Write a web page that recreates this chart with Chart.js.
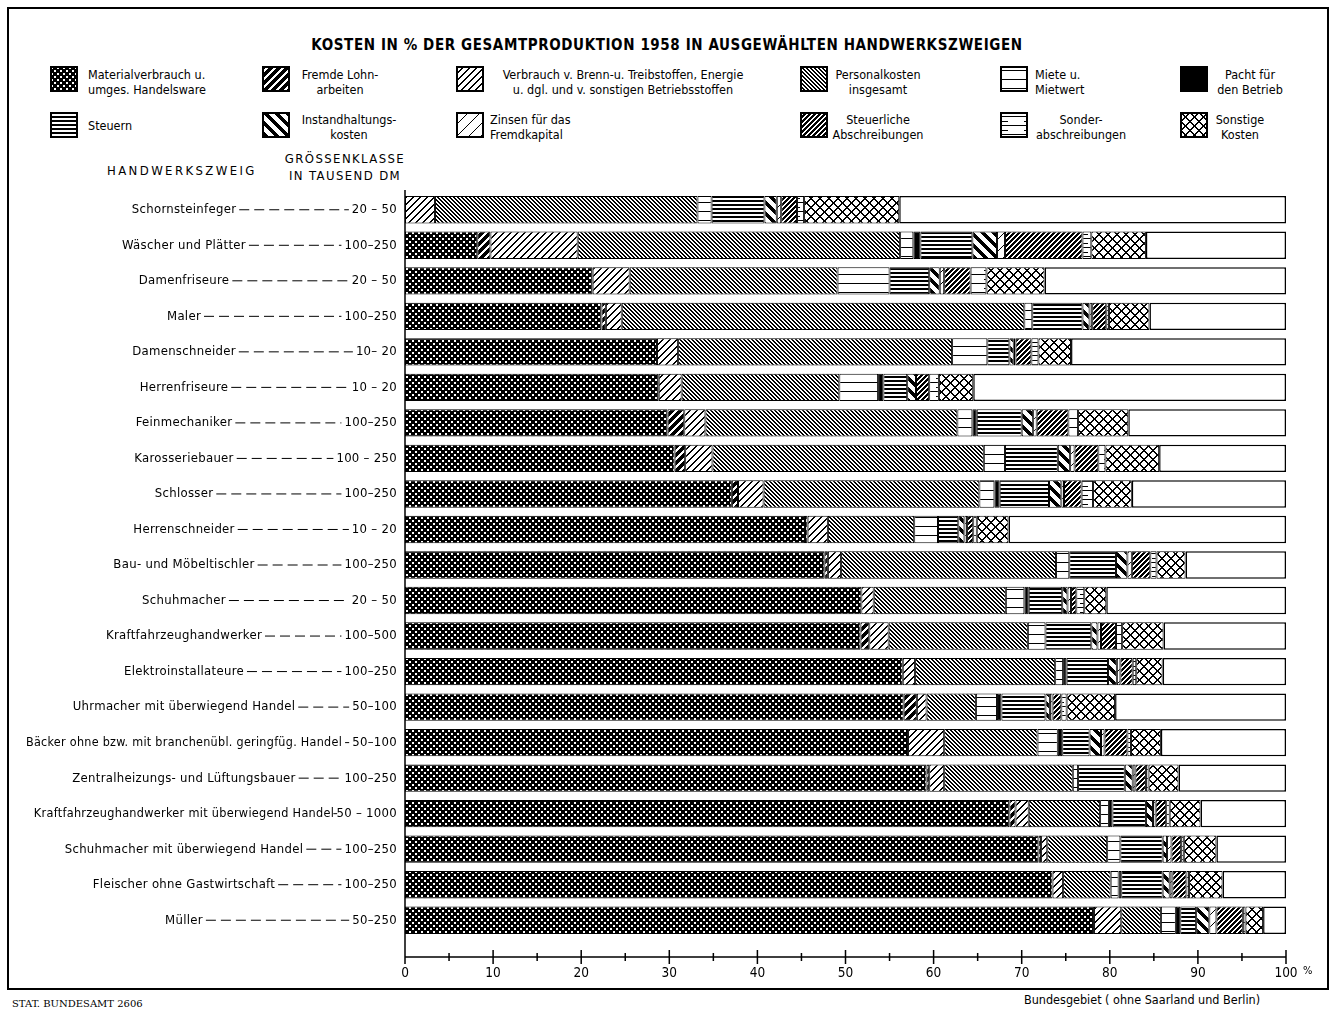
<!DOCTYPE html>
<html>
<head>
<meta charset="utf-8">
<script src="https://cdn.jsdelivr.net/npm/chart.js@4.4.1/dist/chart.umd.min.js"></script>
<style>
  body { margin: 0; background: #fff; width: 1334px; height: 1014px; position: relative; overflow: hidden;
         font-family: 'DejaVu Sans Condensed', 'DejaVu Sans', sans-serif; color: #000; }
  #frame { position: absolute; left: 7px; top: 7px; width: 1322px; height: 983px; border: 2px solid #000; box-sizing: border-box; }
  #chart { position: absolute; left: 0; top: 0; }
  .t { position: absolute; font-size: 12.5px; line-height: 15px; white-space: nowrap; }
  .c { text-align: center; }
  .sw { position: absolute; }
  #title { position: absolute; top: 36px; left: 0; width: 1334px; text-align: center; font-weight: bold; font-size: 15px; letter-spacing: 0.6px; }
  .hd { position: absolute; font-size: 13px; letter-spacing: 1.4px; line-height: 17px; white-space: nowrap; }
</style>
</head>
<body>
<div id="frame"></div>
<div id="title">KOSTEN IN % DER GESAMTPRODUKTION 1958 IN AUSGEWÄHLTEN HANDWERKSZWEIGEN</div>
<div id="legend"></div>
<div class="hd" style="left:107px;top:162px;letter-spacing:2.4px">HANDWERKSZWEIG</div>
<div class="hd" style="left:270px;top:150px;width:150px;text-align:center">GRÖSSENKLASSE<br>IN TAUSEND DM</div>
<div class="t" style="left:12px;top:996px;font-family:'DejaVu Serif',serif;font-size:10px">STAT. BUNDESAMT 2606</div>
<div class="t" style="left:1024px;top:992px">Bundesgebiet ( ohne Saarland und Berlin)</div>
<canvas id="chart" width="1334" height="1014"></canvas>
<script>
// Handwerkszweige und Größenklassen (in Tausend DM)
const branches = [
  'Schornsteinfeger', 'Wäscher und Plätter', 'Damenfriseure', 'Maler', 'Damenschneider',
  'Herrenfriseure', 'Feinmechaniker', 'Karosseriebauer', 'Schlosser', 'Herrenschneider',
  'Bau- und Möbeltischler', 'Schuhmacher', 'Kraftfahrzeughandwerker', 'Elektroinstallateure',
  'Uhrmacher mit überwiegend Handel', 'Bäcker ohne bzw. mit branchenübl. geringfüg. Handel',
  'Zentralheizungs- und Lüftungsbauer', 'Kraftfahrzeughandwerker mit überwiegend Handel',
  'Schuhmacher mit überwiegend Handel', 'Fleischer ohne Gastwirtschaft', 'Müller'
];
const sizeClasses = [
  '20 – 50', '100–250', '20 – 50', '100–250', '10– 20', '10 – 20', '100–250', '100 – 250',
  '100–250', '10 – 20', '100–250', '20 – 50', '100–500', '100–250', '50–100', '50–100',
  '100–250', '50 – 1000', '100–250', '100–250', '50–250'
];

// Kosten in % der Gesamtproduktion
const material       = [0, 8.2, 21.3, 22.3, 28.6, 28.8, 29.8, 30.6, 37.1, 45.4, 47.6, 51.8, 51.7, 56.5, 56.6, 57.1, 59.2, 68.6, 71.9, 73.5, 78.2];
const fremdeLohn     = [0, 1.5, 0, 0.5, 0, 0, 1.9, 1.2, 0.7, 0.3, 0.4, 0, 1.0, 0, 1.5, 0, 0.3, 0.7, 0.3, 0, 0];
const brennstoffe    = [3.4, 9.9, 4.2, 1.8, 2.4, 2.6, 2.4, 3.1, 2.9, 2.3, 1.5, 1.4, 2.2, 1.4, 1.1, 4.1, 1.7, 1.5, 0.7, 1.2, 3.1];
const personal       = [29.8, 36.6, 23.6, 45.7, 31.1, 17.9, 28.6, 30.8, 24.5, 9.8, 24.4, 15.0, 15.8, 15.9, 5.6, 10.6, 14.6, 8.1, 6.8, 5.4, 4.5];
const miete          = [1.6, 1.5, 5.9, 0.9, 4.0, 4.4, 1.7, 2.4, 1.7, 2.7, 1.5, 2.1, 2.0, 0.9, 2.4, 2.3, 0.6, 1.0, 1.5, 0.9, 1.7];
const pacht          = [0, 0.8, 0, 0, 0, 0.6, 0.5, 0, 0.6, 0, 0, 0.5, 0, 0.4, 0.5, 0.5, 0, 0.4, 0, 0.3, 0.5];
const steuern        = [6.0, 5.9, 4.5, 5.7, 2.5, 2.7, 5.1, 6.0, 5.6, 2.3, 5.3, 3.8, 5.2, 4.7, 5.0, 3.1, 5.3, 3.8, 4.8, 4.7, 1.8];
const instandhaltung = [1.4, 2.8, 1.2, 0.8, 0.5, 1.0, 1.3, 1.4, 1.4, 0.7, 1.3, 0.6, 0.7, 1.0, 0.5, 1.3, 0.9, 0.8, 0.5, 0.8, 1.5];
const zinsen         = [0.5, 0.9, 0.5, 0.3, 0.2, 0, 0.4, 0.5, 0.3, 0.3, 0.5, 0.4, 0.4, 0.4, 0.3, 0.4, 0.3, 0.3, 0.5, 0.3, 0.8];
const steuerlAbschr  = [1.8, 8.8, 3.0, 1.6, 1.8, 1.5, 3.6, 2.7, 2.0, 0.7, 2.1, 0.6, 1.7, 1.4, 1.0, 2.6, 1.2, 1.2, 1.1, 1.6, 3.0];
const sonderAbschr   = [0.8, 1.0, 1.8, 0.3, 0.8, 1.1, 1.1, 0.8, 1.3, 0.4, 0.7, 0.9, 0.7, 0.4, 0.6, 0.4, 0.3, 0.4, 0.3, 0.3, 0.3];
const sonstige       = [10.8, 6.2, 6.6, 4.6, 3.7, 3.9, 5.7, 6.1, 4.4, 3.6, 3.3, 2.5, 4.7, 3.0, 5.5, 3.4, 3.4, 3.5, 3.7, 3.8, 2.0];

// Achse
const majorTicks = [0, 10, 20, 30, 40, 50, 60, 70, 80, 90, 100];
const minorTicks = [5, 15, 25, 35, 45, 55, 65, 75, 85, 95];

/* --- Schraffuren (pixelgenau, damit sie nicht grau verschwimmen) --- */
function pixTile(w, h, isBlack) {
  const c = document.createElement('canvas');
  c.width = w; c.height = h;
  const g = c.getContext('2d');
  const img = g.createImageData(w, h);
  for (let y = 0; y < h; y++) {
    for (let x = 0; x < w; x++) {
      const v = isBlack(x, y) ? 0 : 255;
      const p = (y * w + x) * 4;
      img.data[p] = img.data[p + 1] = img.data[p + 2] = v;
      img.data[p + 3] = 255;
    }
  }
  g.putImageData(img, 0, 0);
  return c;
}
const fwd = (s, w) => (x, y) => ((x + y) % s) < w;   // "/"
const bwd = (s, w) => (x, y) => ((x - y + 100 * s) % s) < w;   // "\"

const tiles = {
  material: pixTile(6, 6, (x, y) => !((x === 1 || x === 2) && (y === 1 || y === 2)) && !((x === 4 || x === 5) && (y === 4 || y === 5))),
  fremdeLohn: pixTile(8, 8, fwd(8, 5)),
  brennstoffe: pixTile(7, 7, fwd(7, 2)),
  personal: pixTile(4, 4, bwd(4, 2)),
  miete: pixTile(10, 9, (x, y) => y === 4),
  pacht: pixTile(4, 4, () => true),
  steuern: pixTile(4, 4, (x, y) => y < 2),
  instandhaltung: pixTile(11, 11, bwd(11, 5)),
  zinsen: pixTile(12, 12, fwd(12, 1)),
  steuerlAbschr: pixTile(5, 5, fwd(5, 3)),
  sonderAbschr: pixTile(24, 9, (x, y) => y === 4 || (y === 0 && x < 8)),
  sonstige: pixTile(9, 9, (x, y) => fwd(9, 2)(x, y) || bwd(9, 2)(x, y))
};

const cv = document.getElementById('chart');
const ctx = cv.getContext('2d');
const pat = (name) => ctx.createPattern(tiles[name], 'repeat');

const series = [
  ['material', material], ['fremdeLohn', fremdeLohn], ['brennstoffe', brennstoffe],
  ['personal', personal], ['miete', miete], ['pacht', pacht], ['steuern', steuern],
  ['instandhaltung', instandhaltung], ['zinsen', zinsen], ['steuerlAbschr', steuerlAbschr],
  ['sonderAbschr', sonderAbschr], ['sonstige', sonstige]
];
// Rest bis 100 % (weißer Teil des Balkens)
const rest = branches.map((_, i) => +(100 - series.reduce((s, d) => s + d[1][i], 0)).toFixed(1));

const datasets = series.map(([name, data]) => ({
  label: name,
  data: data,
  backgroundColor: pat(name),
  borderColor: '#000',
  borderWidth: 1,
  borderSkipped: false,
  barPercentage: 0.77,
  categoryPercentage: 1
}));
datasets.push({
  label: 'rest', data: rest, backgroundColor: '#fff', borderColor: '#000',
  borderWidth: 1.5, borderSkipped: false, barPercentage: 0.77, categoryPercentage: 1
});

/* --- Legende (HTML) --- */
const legendItems = [
  { key: 'material', sx: 50, sy: 66, lines: ['Materialverbrauch u.', 'umges. Handelsware'], tx: 88, ty: 67 },
  { key: 'fremdeLohn', sx: 262, sy: 66, lines: ['Fremde Lohn-', 'arbeiten'], tx: 290, ty: 67, w: 100 },
  { key: 'brennstoffe', sx: 456, sy: 66, lines: ['Verbrauch v. Brenn-u. Treibstoffen, Energie', 'u. dgl. und v. sonstigen Betriebsstoffen'], tx: 488, ty: 67, w: 270 },
  { key: 'personal', sx: 800, sy: 66, lines: ['Personalkosten', 'insgesamt'], tx: 828, ty: 67, w: 100 },
  { key: 'miete', sx: 1000, sy: 66, lines: ['Miete u.', 'Mietwert'], tx: 1035, ty: 67 },
  { key: 'pacht', sx: 1180, sy: 66, lines: ['Pacht für', 'den Betrieb'], tx: 1212, ty: 67, w: 76 },
  { key: 'steuern', sx: 50, sy: 112, lines: ['Steuern'], tx: 88, ty: 118 },
  { key: 'instandhaltung', sx: 262, sy: 112, lines: ['Instandhaltungs-', 'kosten'], tx: 296, ty: 112, w: 106 },
  { key: 'zinsen', sx: 456, sy: 112, lines: ['Zinsen für das', 'Fremdkapital'], tx: 490, ty: 112 },
  { key: 'steuerlAbschr', sx: 800, sy: 112, lines: ['Steuerliche', 'Abschreibungen'], tx: 828, ty: 112, w: 100 },
  { key: 'sonderAbschr', sx: 1000, sy: 112, lines: ['Sonder-', 'abschreibungen'], tx: 1032, ty: 112, w: 98 },
  { key: 'sonstige', sx: 1180, sy: 112, lines: ['Sonstige', 'Kosten'], tx: 1210, ty: 112, w: 60 }
];
const legendEl = document.getElementById('legend');
legendItems.forEach(it => {
  const sw = document.createElement('canvas');
  sw.width = 28; sw.height = 26;
  sw.className = 'sw';
  sw.style.left = it.sx + 'px';
  sw.style.top = it.sy + 'px';
  const g = sw.getContext('2d');
  g.fillStyle = g.createPattern(tiles[it.key], 'repeat');
  g.fillRect(0, 0, 28, 26);
  g.strokeStyle = '#000';
  g.lineWidth = 2;
  g.strokeRect(1, 1, 26, 24);
  legendEl.appendChild(sw);
  const t = document.createElement('div');
  t.className = 't' + (it.w ? ' c' : '');
  t.style.left = it.tx + 'px';
  t.style.top = it.ty + 'px';
  if (it.w) t.style.width = it.w + 'px';
  t.innerHTML = it.lines.join('<br>');
  legendEl.appendChild(t);
});

/* --- Achse und Zeilenbeschriftung --- */
const axisPlugin = {
  id: 'axisPlugin',
  afterDraw(chart) {
    const c = chart.ctx;
    const xs = chart.scales.x, ys = chart.scales.y;
    const x0 = xs.getPixelForValue(0);
    const axisY = 957;
    c.save();
    c.strokeStyle = '#000';
    c.fillStyle = '#000';
    c.lineWidth = 1.5;
    c.beginPath();
    c.moveTo(x0, chart.chartArea.top - 2);
    c.lineTo(x0, axisY + 7);
    c.moveTo(x0, axisY);
    c.lineTo(xs.getPixelForValue(100), axisY);
    majorTicks.forEach(v => { const x = xs.getPixelForValue(v); c.moveTo(x, axisY - 7); c.lineTo(x, axisY + 7); });
    minorTicks.forEach(v => { const x = xs.getPixelForValue(v); c.moveTo(x, axisY - 4); c.lineTo(x, axisY + 4); });
    c.stroke();

    c.font = '13.5px "DejaVu Sans Condensed", "DejaVu Sans", sans-serif';
    c.textAlign = 'center';
    c.textBaseline = 'middle';
    majorTicks.forEach(v => {
      const x = xs.getPixelForValue(v);
      c.fillText(String(v), x, axisY + 16);
    });
    c.font = '11px "DejaVu Sans Condensed", "DejaVu Sans", sans-serif';
    c.textAlign = 'left';
    c.fillText('%', xs.getPixelForValue(100) + 17, axisY + 14);

    // Zeilen: Handwerkszweig — — — Größenklasse
    c.font = '13px "DejaVu Sans Condensed", "DejaVu Sans", sans-serif';
    c.letterSpacing = '0.3px';
    c.lineWidth = 1;
    branches.forEach((name, i) => {
      const y = ys.getPixelForValue(i);
      const sizeText = sizeClasses[i];
      const sw = c.measureText(sizeText).width;
      const avail = 397 - sw - 16 - 20;
      const w = Math.min(c.measureText(name).width, avail);
      const left = Math.max(20, 184 - w / 2);
      c.textAlign = 'left';
      c.fillText(name, left, y, w);
      c.textAlign = 'right';
      c.fillText(sizeText, 397, y);
      c.setLineDash([10, 5]);
      c.beginPath();
      c.moveTo(left + w + 3, y);
      c.lineTo(397 - sw - 3, y);
      c.stroke();
      c.setLineDash([]);
    });
    c.restore();
  }
};

new Chart(cv, {
  type: 'bar',
  data: { labels: branches, datasets: datasets },
  options: {
    indexAxis: 'y',
    responsive: false,
    animation: false,
    layout: { padding: { left: 405, right: 48, top: 192, bottom: 76 } },
    plugins: { legend: { display: false }, tooltip: { enabled: false } },
    scales: {
      x: { stacked: true, min: 0, max: 100, display: false },
      y: { stacked: true, display: false }
    }
  },
  plugins: [axisPlugin]
});
</script>
</body>
</html>
